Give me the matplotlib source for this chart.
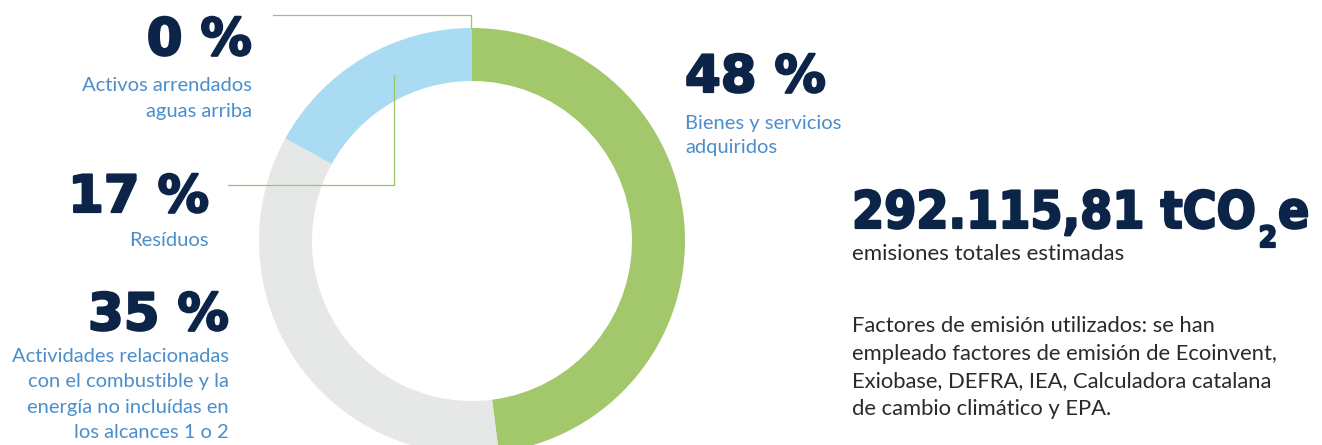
import matplotlib
matplotlib.use("Agg")
import matplotlib.pyplot as plt
import matplotlib.patheffects as pe

# shares clockwise from the top
categories = ["Bienes y servicios adquiridos",
              "Actividades relacionadas con el combustible",
              "Residuos",
              "Activos arrendados aguas arriba"]
shares = [48, 35, 17, 0]
seg_colors = ["#a3c76b", "#e6e8e7", "#a9dbf3", "#a9dbf3"]

pct_labels = ["48 %", "35 %", "17 %", "0 %"]
desc_labels = [["Bienes y servicios", "adquiridos"],
               ["Actividades relacionadas", "con el combustible y la",
                "energía no incluídas en", "los alcances 1 o 2"],
               ["Resíduos"],
               ["Activos arrendados", "aguas arriba"]]

total_value = "292.115,81 tCO"
total_caption = "emisiones totales estimadas"
note_lines = ["Factores de emisión utilizados: se han",
              "empleado factores de emisión de Ecoinvent,",
              "Exiobase, DEFRA, IEA, Calculadora catalana",
              "de cambio climático y EPA."]

NAVY = "#0b2447"
BLUE = "#4a8ecb"
GREEN_LINE = "#9dc46a"
DARK = "#2a2a2a"

W, H = 1322, 445
fig = plt.figure(figsize=(W / 100, H / 100), dpi=100)
ax = fig.add_axes([0, 0, 1, 1])

cx, cy, r, ring = 472, 241, 213, 53
ax.pie(shares, colors=seg_colors, center=(cx, cy), radius=r,
       startangle=-90, counterclock=True,
       wedgeprops=dict(width=ring, linewidth=0))
ax.set_xlim(0, W)
ax.set_ylim(H, 0)
ax.set_axis_off()

big = dict(family="DejaVu Sans", fontweight="bold", fontsize=37, color=NAVY,
           path_effects=[pe.withStroke(linewidth=1.6, foreground=NAVY)])
small = dict(family="Lato", fontweight="normal", fontsize=14.5, color=BLUE)

# (x, baseline of percentage, first label baseline, line step, alignment)
spots = [(685, 92, 129, 24, "left"),
         (229, 330, 362, 25.5, "right"),
         (209, 212, 246, 24, "right"),
         (252, 55, 91, 26, "right")]

for (x, yb, yl, step, ha), pct, desc in zip(spots, pct_labels, desc_labels):
    ax.text(x, yb, pct, ha=ha, va="baseline", **big)
    for i, line in enumerate(desc):
        ax.text(x, yl + i * step, line, ha=ha, va="baseline", **small)

# leader lines
ax.plot([273, 471, 471], [15, 15, 28], color=GREEN_LINE, lw=0.9)
ax.plot([228, 394, 394], [185, 185, 75], color=GREEN_LINE, lw=0.9)

# total
tot = dict(big, fontstretch="condensed", fontsize=37)
t = ax.text(852, 228, total_value, ha="left", va="baseline", **tot)
fig.canvas.draw()
rend = fig.canvas.get_renderer()
bb = t.get_window_extent(rend).transformed(ax.transData.inverted())
s = ax.text(bb.x1 + 3, 247, "2", ha="left", va="baseline", **dict(tot, fontsize=21))
fig.canvas.draw()
bb2 = s.get_window_extent(rend).transformed(ax.transData.inverted())
ax.text(bb2.x1 + 1, 228, "e", ha="left", va="baseline", **tot)

ax.text(852, 260, total_caption, ha="left", va="baseline",
        family="Lato", fontsize=16, color=DARK)
for i, line in enumerate(note_lines):
    ax.text(852, 332 + i * 27.7, line, ha="left", va="baseline",
            family="Lato", fontsize=15.8, color=DARK)

fig.savefig("out.png", dpi=100)
